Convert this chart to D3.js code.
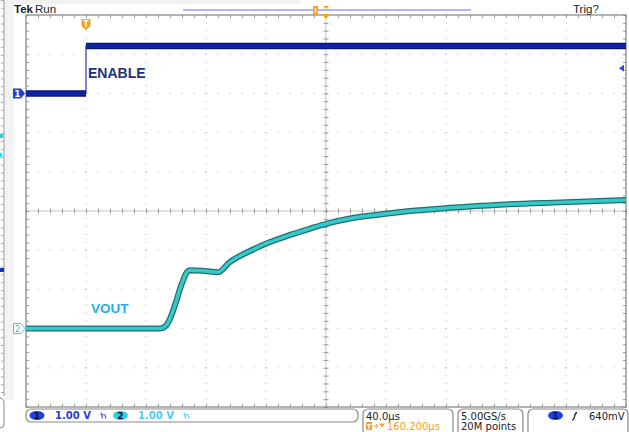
<!DOCTYPE html>
<html>
<head>
<meta charset="utf-8">
<script src="https://cdn.jsdelivr.net/npm/d3@7"></script>
<style>
  body { margin: 0; background: #fff; }
  svg { display: block; font-family: "DejaVu Sans", sans-serif; }
</style>
</head>
<body>
<div id="canvas"></div>
<script>
// channel 1 (ENABLE) - time in us from left edge of screen, volts
var enableT = [0, 40, 40, 400];
var enableV = [0, 0, 1.21, 1.21];

// channel 2 (VOUT)
var voutT = [0, 89.3, 92.7, 96, 99.3, 104, 107.3, 109.3, 119.3, 128, 136, 149.3, 162.7, 176, 189.3, 200.7, 216, 236, 256, 282.7, 316, 356, 400];
var voutV = [0, 0, 0.05, 0.25, 0.6, 1.16, 1.44, 1.49, 1.47, 1.44, 1.70, 1.98, 2.21, 2.39, 2.55, 2.68, 2.81, 2.91, 3.00, 3.08, 3.16, 3.22, 3.28];

var traceLabels = ['ENABLE', 'VOUT'];
var chScale = ['1.00 V', '1.00 V'];
var timeScale = '40.0µs';
var trigPos = '160.200µs';
var sampleRate = ['5.00GS/s', '20M points'];
var trigLevel = '640mV';

var W = 629, H = 432;
var m = {t: 15, r: 3, b: 25, l: 26};   // plot area 26..626, 15..407

var svg = d3.select('#canvas').append('svg')
    .attr('width', W).attr('height', H);

// screen grid in divisions
var gx = d3.scaleLinear().domain([0, 10]).range([m.l, W - m.r]);
var gy = d3.scaleLinear().domain([-5, 5]).range([H - m.b, m.t]);

// time and per-channel voltage scales (1 V/div, offsets +3 / -3 div)
var x = d3.scaleLinear().domain([0, 400]).range(gx.range());
var y1 = d3.scaleLinear().domain([-8, 2]).range(gy.range());
var y2 = d3.scaleLinear().domain([-2, 8]).range(gy.range());

// left side strip
svg.append('rect').attr('x', 4.5).attr('y', 0).attr('width', 9.5).attr('height', 400).attr('fill', '#f3f3f3');
svg.append('rect').attr('x', 0).attr('y', 0).attr('width', 300).attr('height', 4).attr('fill', '#f1f1f1');
svg.append('line').attr('x1', 4).attr('x2', 4).attr('y1', 0).attr('y2', 396).attr('stroke', '#999');
svg.append('g').attr('transform', 'translate(4,0)')
    .call(d3.axisLeft(d3.scaleLinear().domain([0, 50]).range([0, 392])).tickValues(d3.range(0, 51)).tickSize(3).tickFormat(''))
    .call(function(g){ g.select('.domain').remove(); g.selectAll('line').attr('stroke', '#aaa'); });
svg.append('path').attr('d', 'M0,398 Q4,398 4,404 L4,424 Q4,428 0,428').attr('fill', 'none').attr('stroke', '#888');
svg.append('rect').attr('x', 0).attr('y', 134).attr('width', 3).attr('height', 4).attr('fill', '#33cccc');
svg.append('path').attr('d', 'M0,152 L3,155 L0,158 Z').attr('fill', '#22ddee');
svg.append('rect').attr('x', 0).attr('y', 268).attr('width', 4).attr('height', 4).attr('fill', '#1a2fc0');

// grid dots
var minorX = d3.range(0, 10.001, 0.2), minorY = d3.range(-5, 5.001, 0.2);
var grid = svg.append('g').attr('fill', '#aaa');
d3.range(1, 10).filter(function(i){ return i !== 5; }).forEach(function(i){
  grid.selectAll(null).data(minorY).enter().append('rect')
    .attr('x', gx(i) - 0.5).attr('y', function(d){ return gy(d) - 0.5; })
    .attr('width', 1).attr('height', 1);
});
d3.range(-4, 5).filter(function(j){ return j !== 0; }).forEach(function(j){
  grid.selectAll(null).data(minorX).enter().append('rect')
    .attr('x', function(d){ return gx(d) - 0.5; }).attr('y', gy(j) - 0.5)
    .attr('width', 1).attr('height', 1);
});

// center crosshair with ticks
svg.append('line').attr('x1', gx(0)).attr('x2', gx(10)).attr('y1', gy(0)).attr('y2', gy(0)).attr('stroke', '#c4c4c4');
svg.append('line').attr('x1', gx(5)).attr('x2', gx(5)).attr('y1', gy(-5)).attr('y2', gy(5)).attr('stroke', '#c4c4c4');
function ticksStyle(g){ g.select('.domain').remove(); g.selectAll('line').attr('stroke', '#999'); }
svg.append('g').attr('transform', 'translate(0,' + gy(0) + ')')
    .call(d3.axisBottom(gx).tickValues(minorX).tickSize(2.5).tickFormat('')).call(ticksStyle);
svg.append('g').attr('transform', 'translate(0,' + gy(0) + ')')
    .call(d3.axisTop(gx).tickValues(minorX).tickSize(2.5).tickFormat('')).call(ticksStyle);
svg.append('g').attr('transform', 'translate(' + gx(5) + ',0)')
    .call(d3.axisLeft(gy).tickValues(minorY).tickSize(2.5).tickFormat('')).call(ticksStyle);
svg.append('g').attr('transform', 'translate(' + gx(5) + ',0)')
    .call(d3.axisRight(gy).tickValues(minorY).tickSize(2.5).tickFormat('')).call(ticksStyle);

// border ticks
svg.append('g').attr('transform', 'translate(0,' + gy(5) + ')')
    .call(d3.axisBottom(gx).tickValues(minorX).tickSize(3).tickFormat('')).call(ticksStyle);
svg.append('g').attr('transform', 'translate(0,' + gy(-5) + ')')
    .call(d3.axisTop(gx).tickValues(minorX).tickSize(3).tickFormat('')).call(ticksStyle);
svg.append('g').attr('transform', 'translate(' + gx(0) + ',0)')
    .call(d3.axisRight(gy).tickValues(minorY).tickSize(3).tickFormat('')).call(ticksStyle);
svg.append('g').attr('transform', 'translate(' + gx(10) + ',0)')
    .call(d3.axisLeft(gy).tickValues(minorY).tickSize(3).tickFormat('')).call(ticksStyle);

svg.append('rect').attr('x', gx(0)).attr('y', gy(5)).attr('width', gx(10) - gx(0)).attr('height', gy(-5) - gy(5))
    .attr('fill', 'none').attr('stroke', '#8c8c8c').attr('stroke-width', 1.3);

// ENABLE trace
var enPts = enableT.map(function(t, i){ return [x(t), y1(enableV[i])]; });
svg.append('path').attr('d', d3.line()(enPts)).attr('fill', 'none').attr('stroke', '#3b4cc8').attr('stroke-width', 1.3);
for (var i = 0; i < enPts.length - 1; i++) {
  if (enPts[i][0] === enPts[i + 1][0]) continue;
  var seg = [enPts[i], enPts[i + 1]];
  svg.append('path').attr('d', d3.line()(seg)).attr('fill', 'none').attr('stroke', '#0b1670').attr('stroke-width', 6.5);
  svg.append('path').attr('d', d3.line()(seg)).attr('fill', 'none').attr('stroke', '#0f25a8').attr('stroke-width', 4);
}

// VOUT trace
var voutLine = d3.line().x(function(d, i){ return x(voutT[i]); }).y(function(d){ return y2(d); }).curve(d3.curveMonotoneX);
svg.append('path').attr('d', voutLine(voutV)).attr('fill', 'none').attr('stroke', '#1d6e6e').attr('stroke-width', 6);
svg.append('path').attr('d', voutLine(voutV)).attr('fill', 'none').attr('stroke', '#35c9c9').attr('stroke-width', 3.5);

// trace labels
svg.append('text').attr('x', 88).attr('y', 78).text(traceLabels[0])
    .attr('font-family', 'Liberation Sans, Arial, sans-serif').attr('font-weight', 'bold').attr('font-size', 14).attr('fill', '#1c3578');
svg.append('text').attr('x', 91).attr('y', 313).text(traceLabels[1])
    .attr('font-family', 'Liberation Sans, Arial, sans-serif').attr('font-weight', 'bold').attr('font-size', 13.5).attr('fill', '#1eb0e6');

// channel ground markers
var c1y = y1(0), c2y = y2(0);
svg.append('path').attr('d', 'M13,' + (c1y - 5) + 'h8l4,5l-4,5h-8z').attr('fill', '#2040d8');
svg.append('text').attr('x', 17.5).attr('y', c1y + 3.5).attr('text-anchor', 'middle').attr('font-size', 9).attr('font-weight', 'bold').attr('fill', '#fff').text('1');
svg.append('path').attr('d', 'M13.5,' + (c2y - 5) + 'h7.5l4,5l-4,5h-7.5z').attr('fill', '#fff').attr('stroke', '#3cc8d8');
svg.append('text').attr('x', 17.5).attr('y', c2y + 3.5).attr('text-anchor', 'middle').attr('font-size', 9).attr('fill', '#3cc8d8').text('2');

// trigger level arrow on right
var tl = y1(0.64);
svg.append('path').attr('d', 'M619,' + tl + 'l5,-3.5v7z').attr('fill', '#2a48e0');

// trigger marker "T"
var tx = x(40);
svg.append('path').attr('d', 'M' + (tx - 4.5) + ',19h9v7l-4.5,4l-4.5,-4z').attr('fill', '#f5a020');
svg.append('text').attr('x', tx).attr('y', 27).attr('text-anchor', 'middle').attr('font-size', 8).attr('font-weight', 'bold').attr('fill', '#fff').text('T');

// top record bar
svg.append('text').attr('x', 14).attr('y', 13).attr('font-family', 'Liberation Sans, Arial, sans-serif').attr('font-size', 11.5).attr('font-weight', 'bold').attr('fill', '#222').text('Tek');
svg.append('text').attr('x', 35).attr('y', 13).attr('font-family', 'Liberation Sans, Arial, sans-serif').attr('font-size', 11.5).attr('fill', '#222').text('Run');
svg.append('text').attr('x', 573).attr('y', 13).attr('font-family', 'Liberation Sans, Arial, sans-serif').attr('font-size', 11.5).attr('fill', '#222').text('Trig?');
svg.append('line').attr('x1', 183).attr('x2', 471).attr('y1', 10).attr('y2', 10).attr('stroke', '#9a9cf2').attr('stroke-width', 1.5);
svg.append('rect').attr('x', 313).attr('y', 6).attr('width', 5).attr('height', 9).attr('fill', '#f5a020');
svg.append('rect').attr('x', 314.5).attr('y', 8).attr('width', 2).attr('height', 5).attr('fill', '#fde0a0');
svg.append('path').attr('d', 'M' + (gx(5) - 3) + ',6h6l-3,3z').attr('fill', '#f5a020');
svg.append('path').attr('d', 'M' + (gx(5) - 4) + ',14h8l-4,5z').attr('fill', '#f5a020');

// bottom status boxes
var bar = svg.append('g');
function box(x0, x1, y0, y1b){
  bar.append('rect').attr('x', x0).attr('y', y0).attr('width', x1 - x0).attr('height', y1b - y0)
     .attr('rx', 5).attr('fill', '#fff').attr('stroke', '#8a8a8a').attr('stroke-width', 1.2);
}
box(26, 358, 409, 422);
box(363, 453, 409, 438);
box(458, 523, 409, 438);
box(528, 628, 409, 438);

function chip(cx, cy, fill, label){
  bar.append('ellipse').attr('cx', cx).attr('cy', cy).attr('rx', 7.5).attr('ry', 4.5).attr('fill', fill);
  bar.append('text').attr('x', cx).attr('y', cy + 3.3).attr('text-anchor', 'middle').attr('font-size', 9).attr('font-weight', 'bold').attr('fill', '#0a1050').text(label);
}
function bwIcon(x0, col){
  bar.append('path').attr('d', 'M' + x0 + ',412.5 l1.5,6 M' + (x0 + 1) + ',415 q2,-1 3,0 l1,3.5')
     .attr('fill', 'none').attr('stroke', col).attr('stroke-width', 1.2);
}
chip(37, 415.5, '#1f3fe0', '1');
bar.append('text').attr('x', 55).attr('y', 419).attr('font-size', 10).attr('font-weight', 'bold').attr('fill', '#2a3ad8').text(chScale[0]);
bwIcon(101, '#5060d8');
chip(120.5, 415.5, '#2fd0d8', '2');
bar.append('text').attr('x', 138).attr('y', 419).attr('font-size', 10).attr('font-weight', 'bold').attr('fill', '#48d0e8').text(chScale[1]);
bwIcon(184, '#60d8e8');

bar.append('text').attr('x', 366).attr('y', 419.5).attr('font-size', 10).attr('fill', '#222').text(timeScale);
bar.append('rect').attr('x', 366).attr('y', 422).attr('width', 6).attr('height', 8).attr('rx', 1).attr('fill', '#f5a020');
bar.append('text').attr('x', 369).attr('y', 429).attr('text-anchor', 'middle').attr('font-size', 6.5).attr('font-weight', 'bold').attr('fill', '#fff').text('T');
bar.append('path').attr('d', 'M373,426h5M376,424l2,2l-2,2').attr('fill', 'none').attr('stroke', '#f5a020').attr('stroke-width', 1);
bar.append('path').attr('d', 'M379,423.5h6l-3,4z').attr('fill', '#f5a020');
bar.append('text').attr('x', 387).attr('y', 429.5).attr('font-size', 10).attr('fill', '#f0a020').text(trigPos);

bar.append('text').attr('x', 461).attr('y', 419.5).attr('font-size', 10).attr('fill', '#222').text(sampleRate[0]);
bar.append('text').attr('x', 461).attr('y', 429.5).attr('font-size', 10).attr('fill', '#222').text(sampleRate[1]);

chip(555.5, 415.5, '#1f3fe0', '1');
bar.append('path').attr('d', 'M572,420 q2,0 2.5,-3.5 t2.5,-4').attr('fill', 'none').attr('stroke', '#222').attr('stroke-width', 1.3);
bar.append('text').attr('x', 589).attr('y', 419.5).attr('font-size', 10).attr('fill', '#222').text(trigLevel);
</script>
</body>
</html>
